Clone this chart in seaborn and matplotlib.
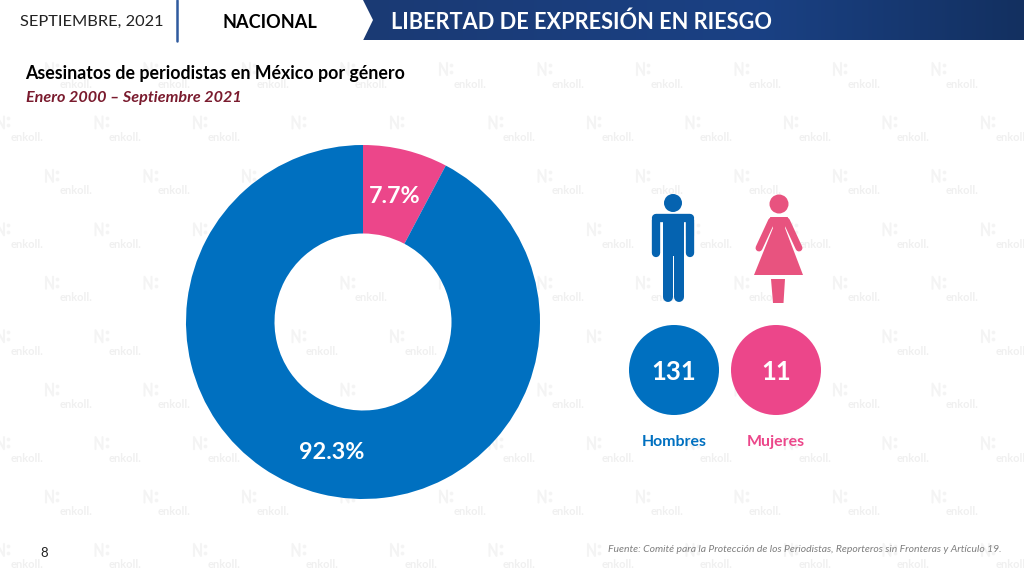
import numpy as np
import seaborn as sns
import matplotlib.pyplot as plt
from matplotlib.patches import Circle, Polygon
from matplotlib.lines import Line2D

# values
generos = ["Mujeres", "Hombres"]
asesinatos = [11, 131]
colores = ["#ec468a", "#0070c0"]

titulo = "Asesinatos de periodistas en México por género"
periodo = "Enero 2000 – Septiembre 2021"
fuente = "Fuente: Comité para la Protección de los Periodistas, Reporteros sin Fronteras y Artículo 19."

sns.set_theme(style="white")
plt.rcParams["font.family"] = ["Lato", "DejaVu Sans"]

fig = plt.figure(figsize=(10.24, 5.76), dpi=100, facecolor="white")

# background axes works in pixels of the slide
bg = fig.add_axes([0, 0, 1, 1])
bg.set_xlim(0, 1024)
bg.set_ylim(576, 0)
bg.axis("off")

# donut and circles cover these spots, no watermark text needed there
def tapado(x, y):
    if abs(np.hypot(x - 363, y - 322) - 132) < 62:
        return True
    return np.hypot(x - 674, y - 370) < 60 or np.hypot(x - 776, y - 370) < 60

# watermark grid
marca = "#f4f4f4"
for fila in range(10):
    y = 84 + fila * 53.44
    x0 = 76 if fila % 2 == 0 else 27
    for col in range(0, 11):
        x = x0 + col * 98.5
        if x < 1024 and not tapado(x, y):
            bg.text(x, y, "enkoll.", color="#f0f0f0", fontsize=8, fontweight="bold", ha="center", va="center", zorder=1)
        # little logo drawn with strokes
        lx, ly = x - 26, y - 15
        bg.add_line(Line2D([lx - 4, lx - 4, lx + 3, lx + 3], [ly + 6, ly - 6, ly + 6, ly - 6], color=marca, lw=1.5, zorder=1))
        bg.scatter([lx + 7, lx + 7], [ly - 4, ly + 3], s=7, color=marca, linewidths=0, zorder=1)

# header band with gradient
cols = np.array([[0x1b, 0x3a, 0x74], [0x1a, 0x41, 0x84], [0x13, 0x30, 0x60]]) / 255
t = np.linspace(0, 1, 256)
img = np.stack([np.interp(t, [0, 0.6, 1], cols[:, i]) for i in range(3)], axis=-1)[None, :, :]
im = bg.imshow(img, extent=[363, 1024, 40.5, 0], aspect="auto", zorder=2)
bg.set_xlim(0, 1024)
bg.set_ylim(576, 0)
band = Polygon([[363, 0], [1024, 0], [1024, 40.5], [363, 40.5], [373, 20]], closed=True, transform=bg.transData, facecolor="none", edgecolor="none")
bg.add_patch(band)
im.set_clip_path(band)

bg.add_line(Line2D([177, 177], [0, 40.5], color="#2f5a9e", lw=1.8, zorder=3))
bg.text(20, 22, "SEPTIEMBRE, 2021", color="#222222", fontsize=11.8, ha="left", va="center")
bg.text(270, 22.5, "NACIONAL", color="black", fontsize=13.1, fontweight="bold", ha="center", va="center")
bg.text(391, 22.5, "LIBERTAD DE EXPRESIÓN EN RIESGO", color="white", fontsize=15.7, fontweight="bold", ha="left", va="center", zorder=4)

bg.text(25, 74, titulo, color="black", fontsize=12.75, fontweight="bold", ha="left", va="center", zorder=4)
bg.text(26, 98, periodo, color="#7a1b2e", fontsize=11.6, fontweight="bold", style="italic", ha="left", va="center", zorder=4)

# man icon
azul_ico = "#0563b0"
bg.add_patch(Circle((673, 203), 9, color=azul_ico, lw=0, zorder=3))
bg.add_line(Line2D([656.3, 689.7], [218.2, 218.2], color=azul_ico, lw=6, solid_capstyle="round", zorder=3))
bg.add_line(Line2D([656.3, 656.3], [220, 253], color=azul_ico, lw=6, solid_capstyle="round", zorder=3))
bg.add_line(Line2D([689.7, 689.7], [220, 253], color=azul_ico, lw=6, solid_capstyle="round", zorder=3))
bg.add_patch(Polygon([[662.5, 216], [683.5, 216], [683.5, 256], [662.5, 256]], color=azul_ico, lw=0, zorder=3))
bg.add_line(Line2D([667.5, 667.5], [250, 297], color=azul_ico, lw=7.2, solid_capstyle="round", zorder=3))
bg.add_line(Line2D([678.5, 678.5], [250, 297], color=azul_ico, lw=7.2, solid_capstyle="round", zorder=3))

# woman icon
rosa_ico = "#e8537f"
bg.add_patch(Circle((779, 204), 9.5, color=rosa_ico, lw=0, zorder=3))
bg.add_patch(Polygon([[770, 217], [788, 217], [785, 228], [803, 275], [754, 275], [773, 228]], color=rosa_ico, lw=0, zorder=3))
bg.add_line(Line2D([771.5, 759], [221, 248], color=rosa_ico, lw=5, solid_capstyle="round", zorder=3))
bg.add_line(Line2D([786.5, 799], [221, 248], color=rosa_ico, lw=5, solid_capstyle="round", zorder=3))
bg.add_patch(Polygon([[771, 279], [785, 279], [783.5, 303], [773, 303]], color=rosa_ico, lw=0, zorder=3))

# count circles
for cx, n, nom, col in [(674, asesinatos[1], generos[1], colores[1]), (776, asesinatos[0], generos[0], colores[0])]:
    bg.add_patch(Circle((cx, 370), 45, color=col, lw=0, zorder=3))
    bg.text(cx, 371.5, str(n), color="white", fontsize=18.5, fontweight="bold", ha="center", va="center", zorder=4)
    bg.text(cx, 442, nom, color=col, fontsize=11.4, fontweight="bold", ha="center", va="center", zorder=4)

bg.text(44, 553, "8", color="#222222", fontsize=9.5, ha="center", va="center")
bg.text(1001, 549, fuente, color="#7f7f7f", fontsize=7.5, style="italic", ha="right", va="center", zorder=4)

# donut, centre (363, 322) radius 177 px
R = 177
ax = fig.add_axes([(363 - R) / 1024, 1 - (322 + R) / 576, 2 * R / 1024, 2 * R / 576])
ax.patch.set_alpha(0)
wedges, _, pct = ax.pie(
    asesinatos, colors=colores, startangle=90, counterclock=False,
    autopct="%.1f%%", pctdistance=0.745, radius=1,
    wedgeprops={"width": 0.5, "linewidth": 0},
)
for p in pct:
    p.set_color("white")
    p.set_fontsize(16.8)
    p.set_fontweight("bold")
    px, py = p.get_position()
    p.set_position((px, py - 0.014))
ax.set_xlim(-1, 1)
ax.set_ylim(-1, 1)

plt.savefig("out.png", dpi=100)
